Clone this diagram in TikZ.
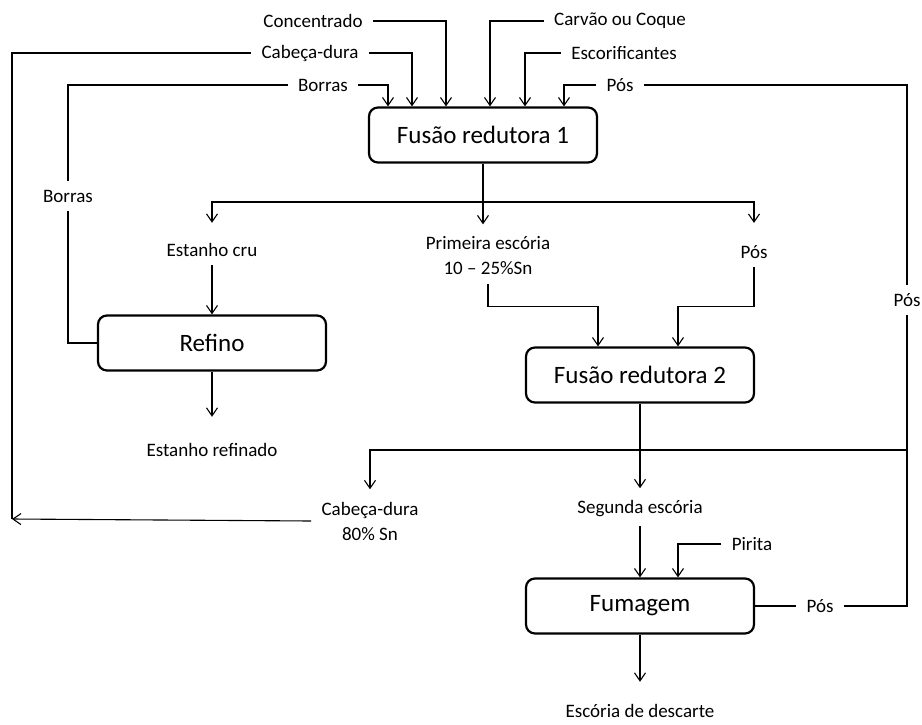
\documentclass[tikz,border=0pt]{standalone}
\usepackage{fontspec}
\setmainfont{Carlito}
\usetikzlibrary{arrows.meta}

\begin{document}
\begin{tikzpicture}[x=0.5pt,y=-0.5pt,line width=0.55pt,
  lbl/.style={inner xsep=5pt,inner ysep=4pt,align=center,font=\fontsize{9.5}{12.5}\selectfont},
  proc/.style={draw,line width=1.1pt,rounded corners=4.5pt,minimum width=114pt,minimum height=27.5pt,font=\fontsize{12.5}{15}\selectfont},
  >={Straight Barb[length=4pt,width=5.5pt]}]
\useasboundingbox (0,0) rectangle (922,724);
\node[lbl] (conc) at (313,21) {Concentrado};
\node[lbl] (cabA) at (310,53) {Cabeça-dura};
\node[lbl] (borA) at (323,85) {Borras};
\node[lbl] (carv) at (620,21) {Carvão ou Coque};
\node[lbl] (escf) at (624,53) {Escorificantes};
\node[lbl] (posA) at (620,85) {Pós};
\node[proc] (fus1) at (483,135) {Fusão redutora 1};
\node[lbl] (borL) at (68,196) {Borras};
\node[lbl] (ecru) at (212,250) {Estanho cru};
\node[lbl] (esc1) at (488,256) {Primeira escória\\10 -- 25\%Sn};
\node[lbl] (posB) at (754,252) {Pós};
\node[lbl] (posV) at (907,300) {Pós};
\node[proc] (refi) at (212,343) {Refino};
\node[proc] (fus2) at (640,375) {Fusão redutora 2};
\node[lbl] (eref) at (212,450) {Estanho refinado};
\node[lbl] (cabB) at (370,521) {Cabeça-dura\\80\% Sn};
\node[lbl] (esc2) at (640,509) {Segunda escória};
\node[lbl] (pirt) at (752,544) {Pirita};
\node[proc] (fuma) at (640,606) {Fumagem};
\node[lbl] (posC) at (820,606) {Pós};
\node[lbl] (desc) at (640,711) {Escória de descarte};
\coordinate (ret) at (12,519);
\coordinate (sp1) at (483,202);
\coordinate (sp2) at (640,450);
\coordinate (posR) at (907,450);
\draw[->] (borA.east) -| ([xshift=-47.5pt]fus1.north);
\draw[->] (cabA.east) -| ([xshift=-35.5pt]fus1.north);
\draw[->] (conc.east) -| ([xshift=-18.5pt]fus1.north);
\draw[->] (carv.west) -| ([xshift=3.5pt]fus1.north);
\draw[->] (escf.west) -| ([xshift=21pt]fus1.north);
\draw[->] (posA.west) -| ([xshift=40.5pt]fus1.north);
\draw (posA.east) -| (posV.north);
\draw (fus1.south) -- (sp1);
\draw[->,shorten >=6pt] (sp1) -| (ecru.north);
\draw[->,shorten >=2pt] (sp1) -- (sp1 |- esc1.north);
\draw[->,shorten >=7pt] (sp1) -| (posB.north);
\draw[->] (ecru.south) -- (refi.north);
\draw (refi.west) -| (borL.south);
\draw (borL.north) |- (borA.west);
\draw[->,shorten >=9pt] (refi.south) -- (eref.north);
\draw[->] (esc1.south) |- ([xshift=-21pt,yshift=20pt]fus2.north) -- ([xshift=-21pt]fus2.north);
\draw[->] (posB.south) |- ([xshift=19pt,yshift=20pt]fus2.north) -- ([xshift=19pt]fus2.north);
\draw (fus2.south) -- (sp2);
\draw[->,shorten >=2pt] (sp2) -- (esc2.north);
\draw[->,shorten >=2pt] (posR) -| (cabB.north);
\draw[->] (cabB.west) -- (ret);
\draw (ret) |- (cabA.west);
\draw[->] (esc2.south) -- (fuma.north);
\draw[->] (pirt.west) -| ([xshift=19pt]fuma.north);
\draw (fuma.east) -- (posC.west);
\draw (posC.east) -| (posV.south);
\draw[->,shorten >=7pt] (fuma.south) -- (desc.north);
\end{tikzpicture}
\end{document}
